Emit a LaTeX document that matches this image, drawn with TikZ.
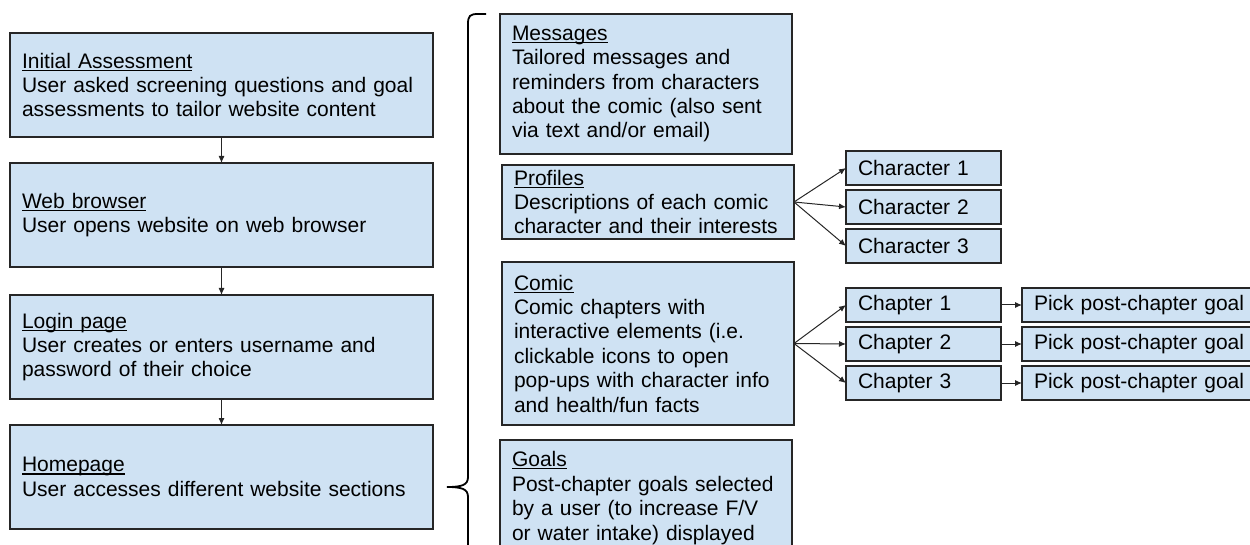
\documentclass[tikz,border=0pt]{standalone}
\usepackage{fontspec}
\setmainfont{Liberation Sans}
\usetikzlibrary{arrows.meta}
\definecolor{boxblue}{HTML}{CFE2F3}
\newcommand\ttl[1]{\setbox0=\hbox{#1}\rlap{\rule[-2.6pt]{\wd0}{1.1pt}}\box0}

\begin{document}
\begin{tikzpicture}[x=1pt,y=-1pt,
  box/.style={draw=black!85,line width=1.3pt,fill=boxblue,anchor=north west,inner xsep=12pt,inner ysep=0pt,outer sep=0pt,align=left,font=\fontsize{21}{24.4}\selectfont},
  big/.style={box,text width=399pt,minimum height=104pt},
  mid/.style={box,text width=268pt},
  small/.style={box,text width=131pt,minimum height=34pt},
  link/.style={-{Latex[length=7pt,width=6pt]},line width=1pt,black!85}]
\useasboundingbox (0,0) rectangle (1250,545);
\clip (0,0) rectangle (1250,545);
\node[big] (init) at (10,33) {\ttl{Initial Assessment}\\User asked screening questions and goal\\assessments to tailor website content};
\node[big] (web) at (10,163) {\ttl{Web browser}\\User opens website on web browser};
\node[big] (login) at (10,295) {\ttl{Login page}\\User creates or enters username and\\password of their choice};
\node[big] (home) at (10,425) {\ttl{Homepage}\\User accesses different website sections};
\draw[link] (init.south) -- (web.north);
\draw[link] (web.south) -- (login.north);
\draw[link] (login.south) -- (home.north);
\draw[line width=1.8pt] (486,14) -- (478,14) .. controls (470,14) and (468,16) .. (468,24) -- (468,477) .. controls (468,485) and (462,487) .. (447,487) .. controls (462,487) and (468,489) .. (468,497) -- (468,950) .. controls (468,958) and (470,960) .. (478,960) -- (486,960);
\node[mid,minimum height=140pt] (msg) at (500,14) {\ttl{Messages}\\Tailored messages and\\reminders from characters\\about the comic (also sent\\via text and/or email)};
\node[mid,minimum height=74pt] (prof) at (502,165) {\ttl{Profiles}\\Descriptions of each comic\\character and their interests};
\node[mid,minimum height=163pt] (comic) at (502,262) {\ttl{Comic}\\Comic chapters with\\interactive elements (i.e.\\clickable icons to open\\pop-ups with character info\\and health/fun facts};
\node[mid,minimum height=116pt] (goals) at (500,440) {\ttl{Goals}\\Post-chapter goals selected\\by a user (to increase F/V\\or water intake) displayed};
\node[small] (char1) at (846,151) {Character 1};
\node[small] (char2) at (846,190) {Character 2};
\node[small] (char3) at (846,229) {Character 3};
\draw[link] (prof.east) -- (char1.west);
\draw[link] (prof.east) -- (char2.west);
\draw[link] (prof.east) -- (char3.west);
\node[small] (chap1) at (846,288) {Chapter 1};
\node[small] (chap2) at (846,327) {Chapter 2};
\node[small] (chap3) at (846,366) {Chapter 3};
\draw[link] (comic.east) -- (chap1.west);
\draw[link] (comic.east) -- (chap2.west);
\draw[link] (comic.east) -- (chap3.west);
\node[small,text width=216pt] (pick1) at (1022,288) {Pick post-chapter goal};
\node[small,text width=216pt] (pick2) at (1022,327) {Pick post-chapter goal};
\node[small,text width=216pt] (pick3) at (1022,366) {Pick post-chapter goal};
\draw[link] (chap1.east) -- (pick1.west);
\draw[link] (chap2.east) -- (pick2.west);
\draw[link] (chap3.east) -- (pick3.west);
\end{tikzpicture}
\end{document}
